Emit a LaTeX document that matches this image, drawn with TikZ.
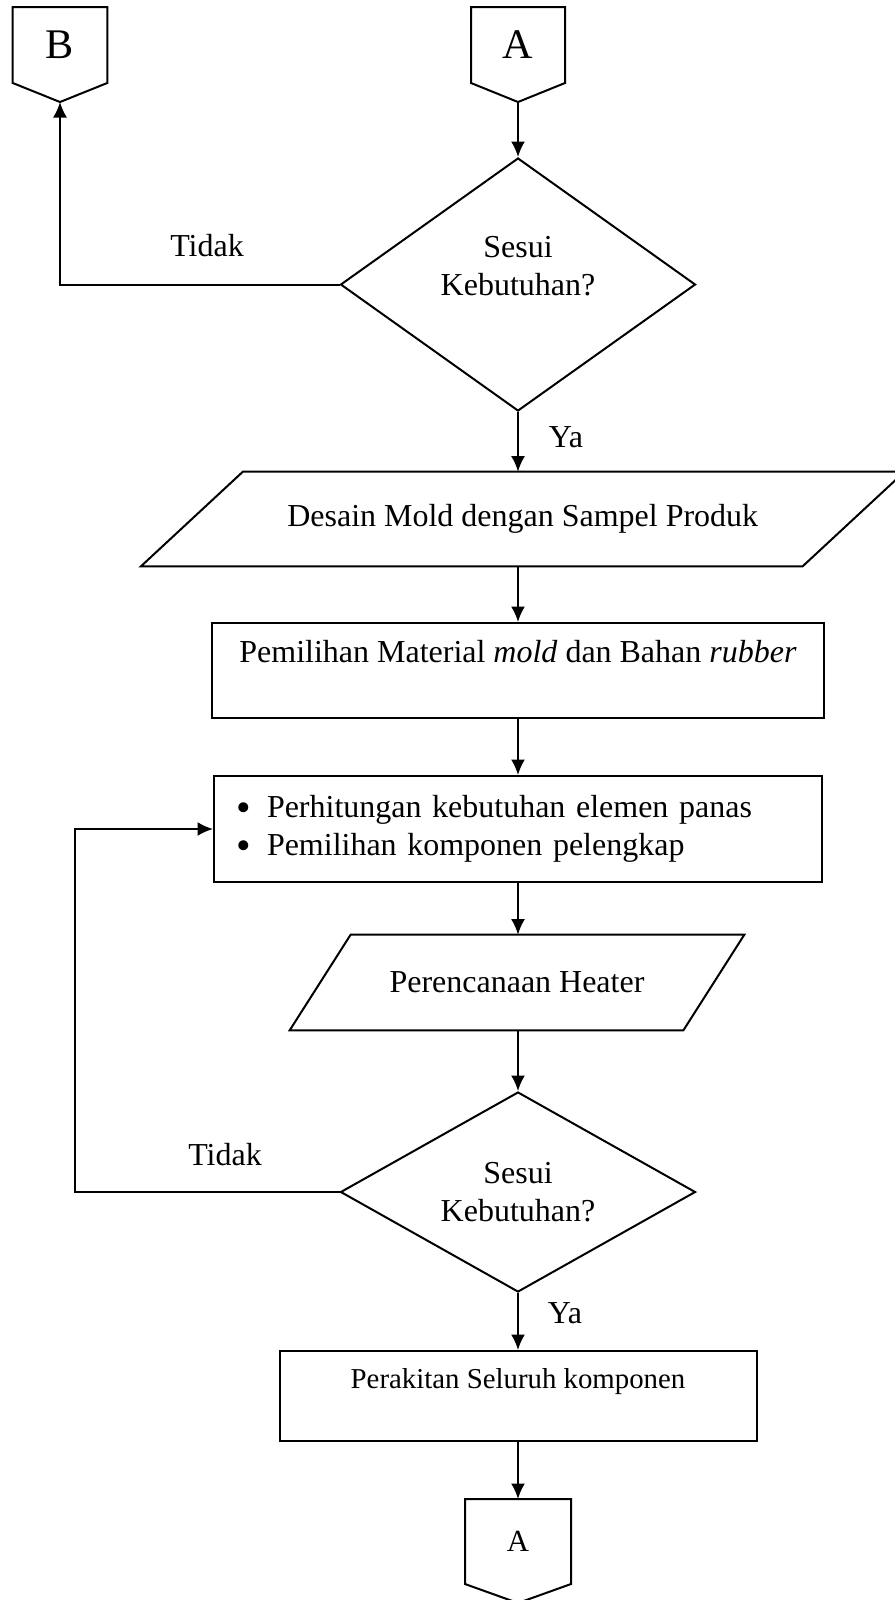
\documentclass[tikz,border=0pt]{standalone}
\usepackage{fontspec}
\setmainfont{Liberation Serif}
\usetikzlibrary{calc,arrows.meta,shapes.geometric}
\def\offpage[#1](#2)(#3:#4:#5)#6{%
	\draw[line width=0.4mm] ($(#2)+(-#3,0)$) -- ($(#2)+(#3,0)$) -- ($(#2)+(#3,-#4)$) -- ($(#2)+(0,-#4-#5)$) -- ($(#2)+(-#3,-#4)$) -- cycle;
	\coordinate (#1top) at (#2);
	\coordinate (#1tip) at ($(#2)+(0,-#4-#5)$);
	\node (#1) at ($(#2)+(0,-#4/2)$) {#6};}
\def\slantbox[#1](#2)(#3:#4:#5)#6{%
	\node[minimum width=#3cm, minimum height=#4cm, inner sep=0pt] (#1) at (#2) {#6};
	\draw[line width=0.4mm] ($(#1.north west)+(#5/2,0)$) -- ($(#1.north east)+(#5/2,0)$) -- ($(#1.south east)+(-#5/2,0)$) -- ($(#1.south west)+(-#5/2,0)$) -- cycle;}
\def\listmark{\makebox[0.62cm][l]{\raisebox{-2pt}{\scalebox{1.3}{\textbullet}}}}

\begin{document}
\begin{tikzpicture}[
		flow/.style={line width=0.4mm, -{Latex[length=3.1mm,width=2.8mm]}},
		box/.style={draw, line width=0.4mm, align=center, inner sep=0pt},
		choice/.style={box, diamond},
		font=\fontsize{18.2}{21.5}\selectfont]
		%%%%% START %%%%%
		
		\useasboundingbox (0,0) rectangle (17.9,-32);
		
		\offpage[inA](10.36,-0.14)(0.94:1.52:0.38){\fontsize{24}{28}\selectfont A}
		\offpage[outB](1.2,-0.14)(0.945:1.52:0.38){\fontsize{24}{28}\selectfont B}
		
		\node[choice, minimum width=7.1cm, minimum height=5.06cm, shape aspect=1.4] (cek1) at (10.36,-5.69) {Sesui\\Kebutuhan?\\\mbox{}};
		\slantbox[desain](10.455,-10.38)(13.22:1.88:2.04){Desain Mold dengan Sampel Produk}
		\node[box, minimum width=12.24cm, minimum height=1.9cm] (material) at (10.36,-13.41) {Pemilihan Material \textit{mold} dan Bahan \textit{rubber}\\\mbox{}};
		
		\node[box, minimum width=12.16cm, minimum height=2.12cm, text width=11.28cm, align=left, inner xsep=0.44cm] (hitung) at (10.36,-16.58) {\listmark Perhitungan kebutuhan elemen panas\\\listmark Pemilihan komponen pelengkap};
		\slantbox[heater](10.34,-19.65)(7.86:1.9:1.22){Perencanaan Heater}
		\node[choice, minimum width=7.1cm, minimum height=4cm, shape aspect=1.8] (cek2) at (10.36,-23.84) {Sesui\\Kebutuhan?};
		
		\node[box, minimum width=9.54cm, minimum height=1.8cm, font=\fontsize{16.4}{19.5}\selectfont] (rakit) at (10.36,-27.92) {Perakitan Seluruh komponen\\\mbox{}};
		\offpage[outA](10.36,-29.98)(1.06:1.7:0.38){\fontsize{17.5}{21}\selectfont A}
		
		\node (tidak1) at (4.14,-4.92) {Tidak};
		\node (tidak2) at (4.5,-23.1) {Tidak};
		\node (ya1) at (11.32,-8.74) {Ya};
		\node (ya2) at (11.3,-26.26) {Ya};
		
		\draw[flow] (inAtip) -- (cek1.north);
		\draw[flow] (cek1.west) -| (outBtip);
		\draw[flow] (cek1.south) -- (cek1.south |- desain.north);
		\draw[flow] (cek1.south |- desain.south) -- (material.north);
		\draw[flow] (material.south) -- (hitung.north);
		\draw[flow] (hitung.south) -- (hitung.south |- heater.north);
		\draw[flow] (hitung.south |- heater.south) -- (cek2.north);
		\draw[flow] (cek2.west) -- ++(-5.29,0) |- (hitung.west);
		\draw[flow] (cek2.south) -- (rakit.north);
		\draw[flow] (rakit.south) -- (outAtop);
		
		%%%%% END %%%%%
	\end{tikzpicture}
\end{document}
